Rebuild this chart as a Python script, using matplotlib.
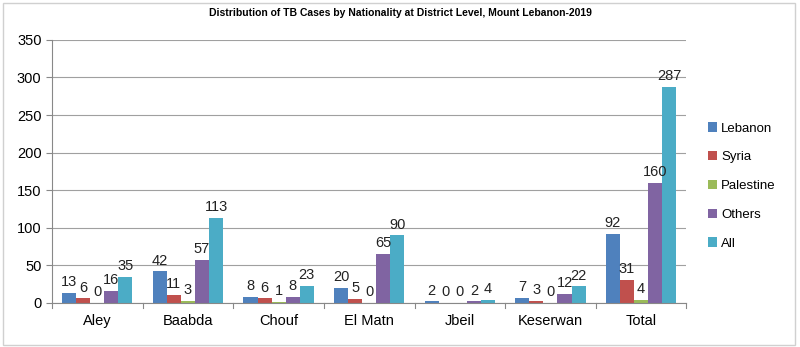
import matplotlib.pyplot as plt
import numpy as np
from matplotlib.patches import Rectangle

plt.rcParams['font.family'] = ['Liberation Sans', 'DejaVu Sans']

districts = ["Aley", "Baabda", "Chouf", "El Matn", "Jbeil", "Keserwan", "Total"]
lebanon = [13, 42, 8, 20, 2, 7, 92]
syria = [6, 11, 6, 5, 0, 3, 31]
palestine = [0, 3, 1, 0, 0, 0, 4]
others = [16, 57, 8, 65, 2, 12, 160]
all_cases = [35, 113, 23, 90, 4, 22, 287]

series = [("Lebanon", lebanon, "#4F81BD"),
          ("Syria", syria, "#C0504D"),
          ("Palestine", palestine, "#9BBB59"),
          ("Others", others, "#8064A2"),
          ("All", all_cases, "#4BACC6")]

fig = plt.figure(figsize=(8, 3.47), dpi=100)
ax = fig.add_axes([0.065, 0.127, 0.793, 0.758])

x = np.arange(len(districts))
w = 0.155
for i, (name, vals, col) in enumerate(series):
    pos = x + (i - 2) * w
    ax.bar(pos, vals, w, color=col, label=name)
    for p, v in zip(pos, vals):
        ax.text(p, v + 5, str(v), ha='center', va='bottom', fontsize=10.5, color='#222222')

ax.set_xlim(-0.5, len(districts) - 0.5)
ax.set_ylim(0, 350)
ax.set_yticks(range(0, 351, 50))
ax.set_xticks(x)
ax.set_xticklabels(districts, fontsize=10.5)
ax.tick_params(axis='y', labelsize=10.5, length=4, color='#888888')
ax.tick_params(axis='x', length=0, pad=8)
# category separator ticks
for b in np.arange(-0.5, len(districts), 1.0):
    ax.plot([b, b], [0, -0.02], transform=ax.get_xaxis_transform(), color='#888888',
            lw=0.8, clip_on=False)
ax.yaxis.grid(True, color='#a0a0a0', lw=0.8)
ax.set_axisbelow(True)
for s in ['top', 'right']:
    ax.spines[s].set_visible(False)
ax.spines['left'].set_color('#888888')
ax.spines['bottom'].set_color('#888888')

fig.text(0.5, 0.963, "Distribution of TB Cases by Nationality at District Level, Mount Lebanon-2019",
         ha='center', va='center', fontsize=7.5, fontweight='bold')

ax.legend(loc='center left', bbox_to_anchor=(0.87, 0.464), bbox_transform=fig.transFigure,
          frameon=False, fontsize=9.5, handlelength=0.7, handleheight=0.7,
          labelspacing=1.25, handletextpad=0.3)

fig.patches.append(Rectangle((0.004, 0.006), 0.99, 0.985, transform=fig.transFigure,
                             fill=False, edgecolor='#d0d0d0', lw=1))

fig.savefig("out.png", dpi=100)
